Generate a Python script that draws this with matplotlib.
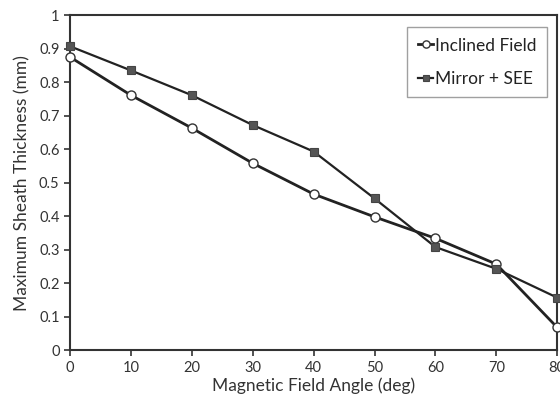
import matplotlib.pyplot as plt

plt.rcParams['font.family'] = ['Lato', 'DejaVu Sans']

# Data
angles = [0, 10, 20, 30, 40, 50, 60, 70, 80]
inclined = [0.875, 0.761, 0.663, 0.558, 0.466, 0.398, 0.334, 0.257, 0.068]
mirror = [0.907, 0.835, 0.761, 0.672, 0.593, 0.453, 0.308, 0.243, 0.157]

fig = plt.figure(figsize=(5.6, 3.98), dpi=100)
ax = fig.add_axes([0.125, 0.12, 0.87, 0.842])

ax.plot(angles, inclined, color='#222222', lw=2, marker='o', ms=6.5,
        mfc='white', mec='#333333', mew=1, label='Inclined Field', clip_on=False, zorder=3)
ax.plot(angles, mirror, color='#222222', lw=1.6, marker='s', ms=6,
        mfc='#555555', mec='#444444', mew=0.8, label='Mirror + SEE', clip_on=False, zorder=3)

ax.set_xlim(0, 80)
ax.set_ylim(0, 1)
ax.set_xticks(angles)
ax.set_yticks([0, 0.1, 0.2, 0.3, 0.4, 0.5, 0.6, 0.7, 0.8, 0.9, 1])
ax.set_yticklabels(['0', '0.1', '0.2', '0.3', '0.4', '0.5', '0.6', '0.7', '0.8', '0.9', '1'])

for s in ax.spines.values():
    s.set_color('#333333')
    s.set_linewidth(1.5)
ax.tick_params(direction='out', length=4, width=1.2, color='#333333',
               labelsize=10.5, labelcolor='#333333')

ax.set_xlabel('Magnetic Field Angle (deg)', fontsize=12.5, color='#333333', labelpad=2)
ax.set_ylabel('Maximum Sheath Thickness (mm)', fontsize=12.5, color='#333333', labelpad=6)

leg = ax.legend(loc='upper right', bbox_to_anchor=(0.997, 0.99), fontsize=12.5,
                handlelength=0.9, handletextpad=0.1, borderpad=0.6, labelspacing=1.0,
                markerscale=0.8, fancybox=False, frameon=True)
leg.get_frame().set_edgecolor('#888888')
leg.get_frame().set_linewidth(1)
for t in leg.get_texts():
    t.set_color('#222222')

fig.savefig('out.png', dpi=100)
